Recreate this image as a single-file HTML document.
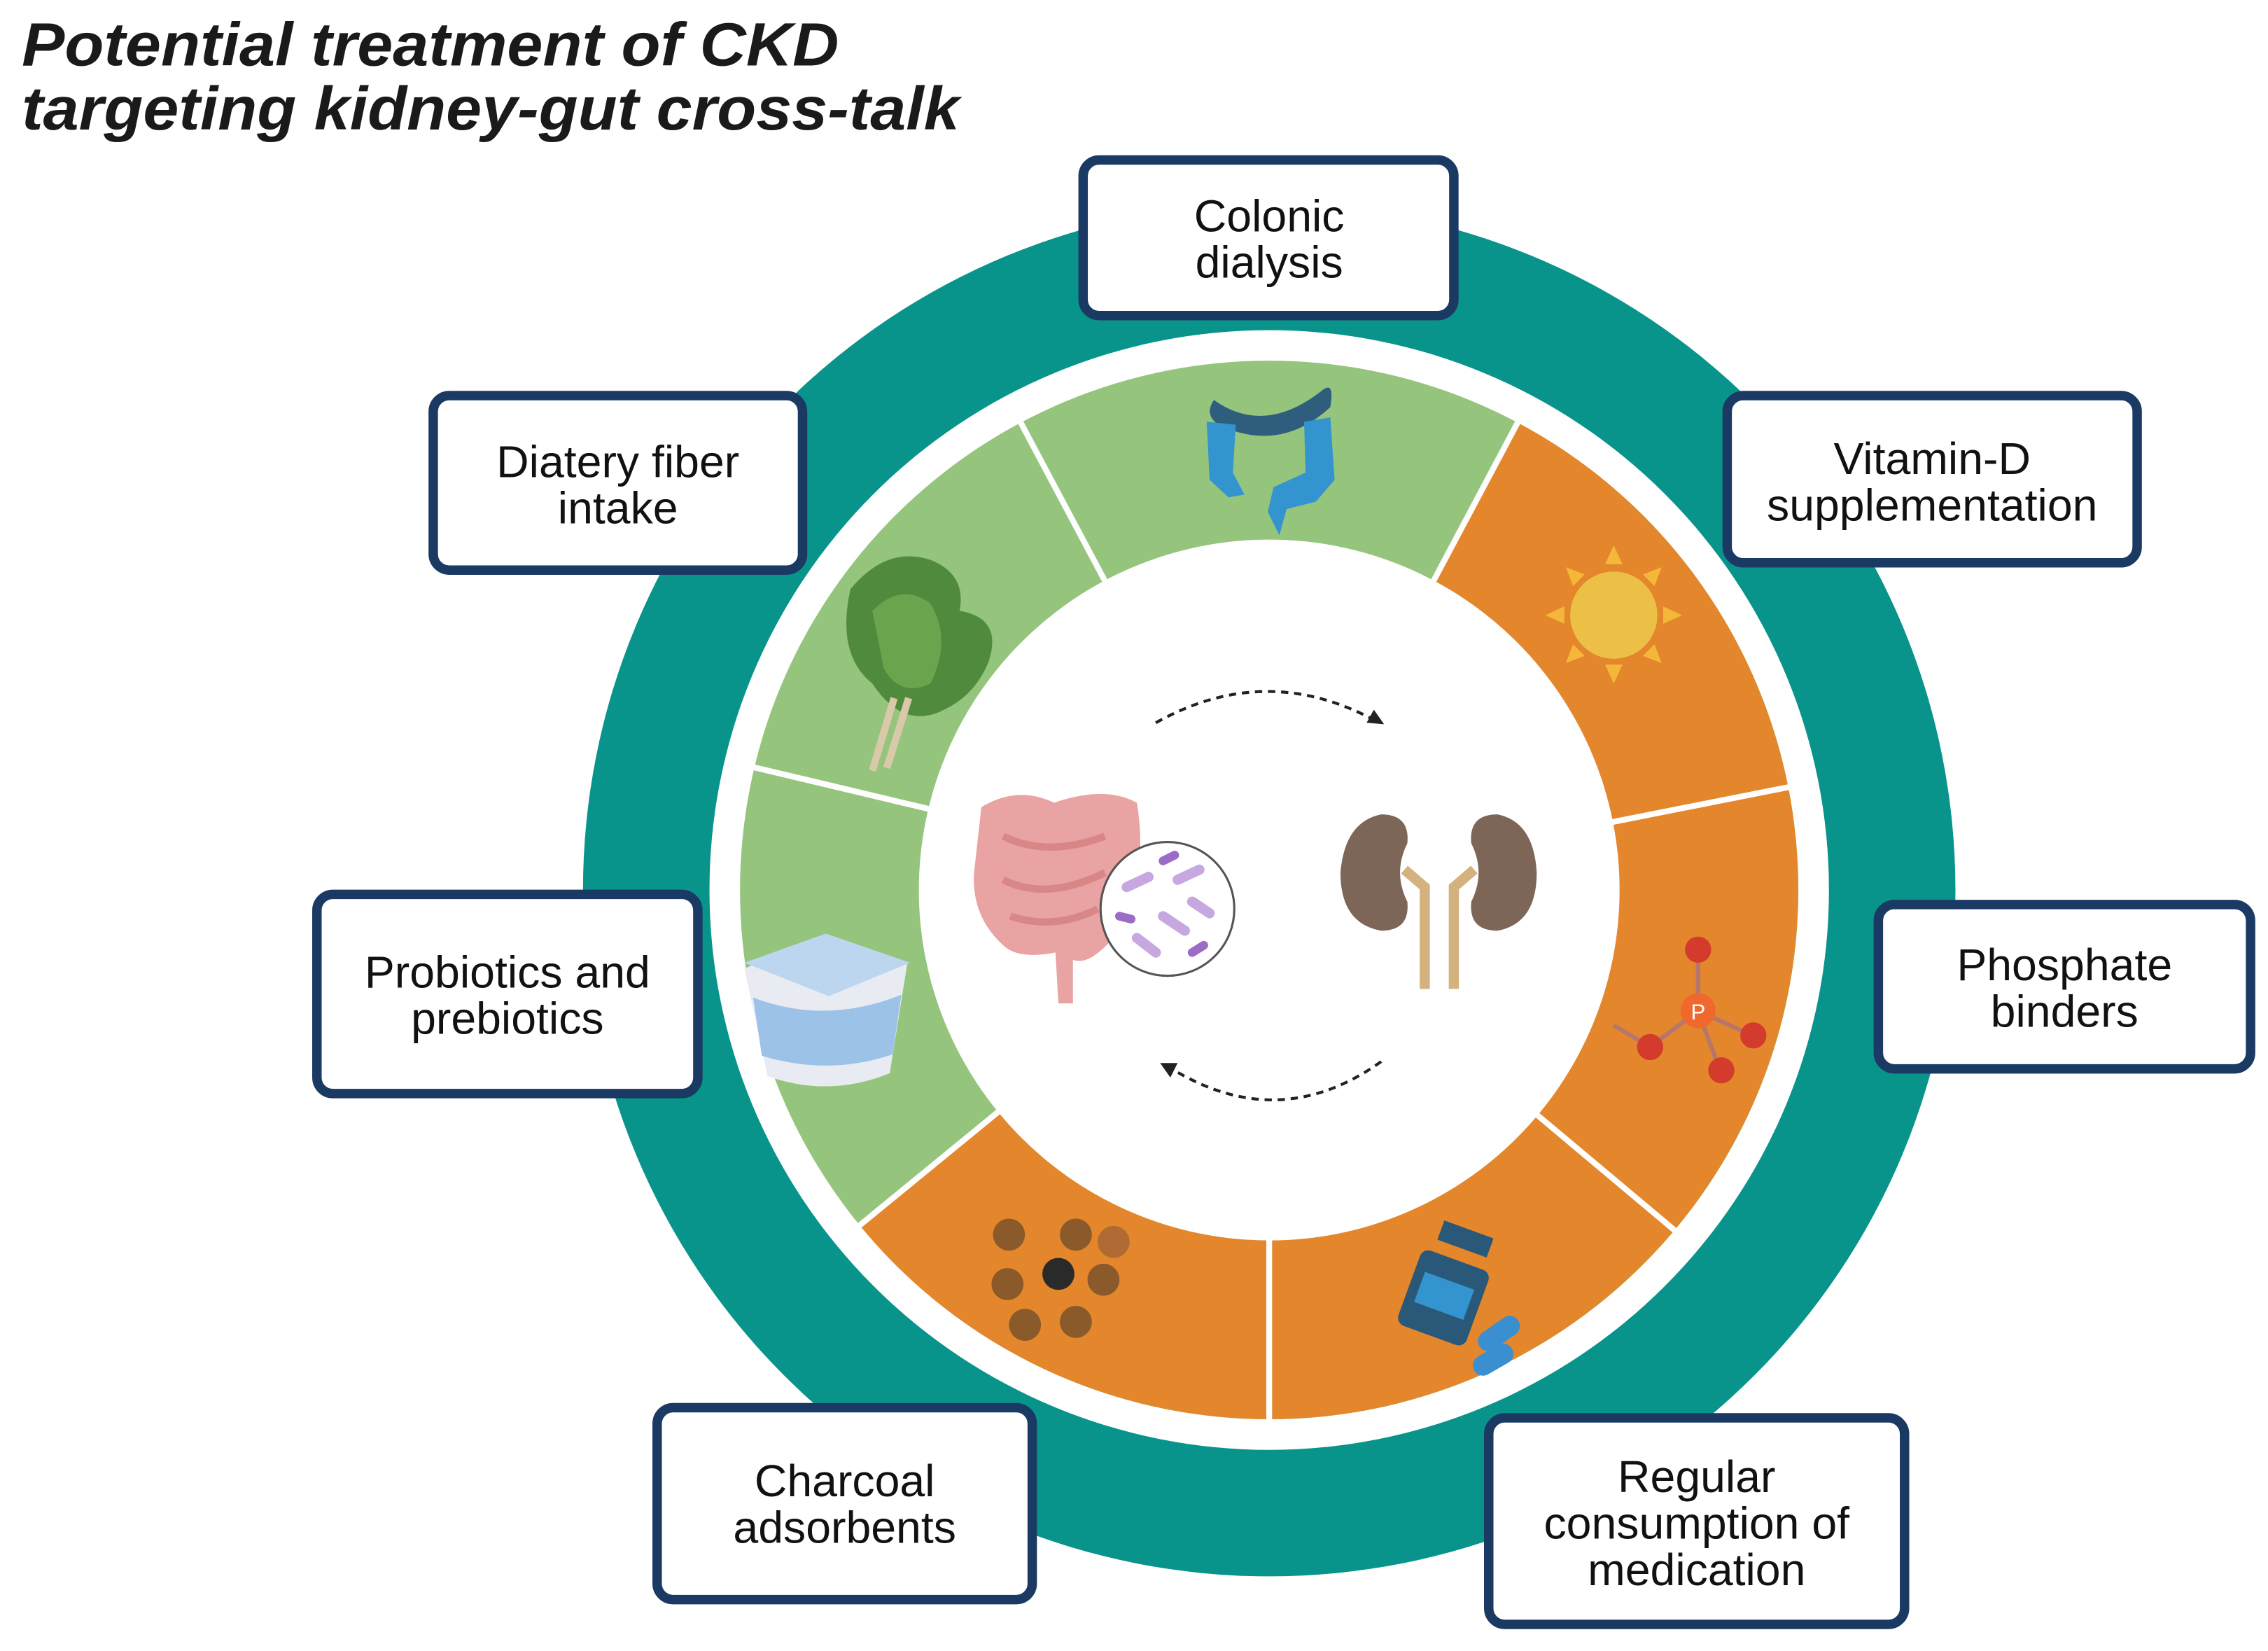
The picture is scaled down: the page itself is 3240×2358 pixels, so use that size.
<!DOCTYPE html>
<html><head><meta charset="utf-8"><style>
html,body{margin:0;padding:0;background:#fff;}
svg{display:block;}
.bt{font-family:"Liberation Sans",sans-serif;font-size:31px;fill:#111;text-anchor:middle;}
</style></head><body>
<svg width="3240" height="2358" viewBox="0 0 1560 1135.3" xmlns="http://www.w3.org/2000/svg">
<rect width="1560" height="1136" fill="#fff"/>
<text x="15" y="45" font-family="Liberation Sans,sans-serif" font-weight="bold" font-style="italic" font-size="42" fill="#1a1a1a" textLength="562" lengthAdjust="spacingAndGlyphs">Potential treatment of CKD</text>
<text x="15" y="89" font-family="Liberation Sans,sans-serif" font-weight="bold" font-style="italic" font-size="42" fill="#1a1a1a" textLength="645" lengthAdjust="spacingAndGlyphs">targeting kidney-gut cross-talk</text>

<circle cx="873" cy="612" r="472" fill="#09948b"/>
<circle cx="873" cy="612" r="385" fill="#fff"/>
<circle cx="873" cy="612" r="364" fill="#95c47d"/>
<path d="M873,612 L1043.9,290.6 A364,364 0 1 1 591.3,842.6 Z" fill="#e4862b"/>
<g stroke="#fff" stroke-width="4">
<line x1="873" y1="612" x2="702.1" y2="290.6"/>
<line x1="873" y1="612" x2="1043.9" y2="290.6"/>
<line x1="873" y1="612" x2="1230.1" y2="541.3"/>
<line x1="873" y1="612" x2="1151.8" y2="846"/>
<line x1="873" y1="612" x2="873" y2="976"/>
<line x1="873" y1="612" x2="591.3" y2="842.6"/>
<line x1="873" y1="612" x2="518.9" y2="527.7"/>
</g>
<circle cx="873" cy="612" r="241" fill="#fff"/>

<!-- colon icon -->
<path d="M835,275 Q870,300 910,268 Q918,262 915,280 Q880,312 838,292 Q828,285 835,275Z" fill="#2f5d7e"/>
<path d="M830,290 L850,292 L848,325 L856,340 L845,342 L832,330 Z" fill="#3494cf"/>
<path d="M897,290 L915,287 L918,330 L905,345 L885,350 L880,368 L872,352 L876,335 L898,325 Z" fill="#3494cf"/>

<!-- sun -->
<g fill="#f4b73a"><polygon points="1110,375 1116,388 1104,388"/><polygon points="1110,470 1116,457 1104,457"/><polygon points="1063,423 1076,417 1076,429"/><polygon points="1157,423 1144,417 1144,429"/><polygon points="1077,390 1090,395 1082,403"/><polygon points="1143,390 1130,395 1138,403"/><polygon points="1077,456 1082,443 1090,451"/><polygon points="1143,456 1138,443 1130,451"/></g>
<circle cx="1110" cy="423" r="30" fill="#ecc046"/>

<!-- phosphate -->
<g stroke="#b7766b" stroke-width="3"><line x1="1168" y1="695" x2="1168" y2="655"/><line x1="1168" y1="695" x2="1135" y2="720"/><line x1="1168" y1="695" x2="1205" y2="712"/><line x1="1168" y1="695" x2="1183" y2="736"/><line x1="1135" y1="720" x2="1110" y2="705"/></g>
<circle cx="1168" cy="695" r="12" fill="#f0682d"/><text x="1168" y="701" font-family="Liberation Sans,sans-serif" font-size="15" fill="#fff" text-anchor="middle">P</text>
<g fill="#d33b2c"><circle cx="1168" cy="653" r="9"/><circle cx="1135" cy="720" r="9"/><circle cx="1206" cy="712" r="9"/><circle cx="1184" cy="736" r="9"/></g>

<!-- medication -->
<rect x="968" y="865" width="50" height="55" rx="6" fill="#2a5878" transform="rotate(20 993 892)"/>
<rect x="975" y="880" width="36" height="22" fill="#3494cf" transform="rotate(20 993 892)"/>
<rect x="990" y="845" width="36" height="14" fill="#2a5878" transform="rotate(20 1008 852)"/>
<rect x="1015" y="910" width="32" height="14" rx="7" fill="#3a8fd0" transform="rotate(-35 1031 917)"/>
<rect x="1012" y="928" width="30" height="14" rx="7" fill="#3a8fd0" transform="rotate(-30 1027 935)"/>

<!-- charcoal -->
<g fill="#8a5a2a"><circle cx="694" cy="849" r="11"/><circle cx="740" cy="849" r="11"/><circle cx="693" cy="883" r="11"/><circle cx="759" cy="880" r="11"/><circle cx="705" cy="911" r="11"/><circle cx="740" cy="909" r="11"/></g>
<circle cx="766" cy="854" r="11" fill="#b06b35"/>
<circle cx="728" cy="876" r="11" fill="#2a2a2a"/>

<!-- yogurt -->
<path d="M512,666 L568,643 L624,663 L612,738 Q570,755 528,740 Z" fill="#e8ecf2"/>
<path d="M518,686 Q568,705 620,684 L614,725 Q570,740 524,726 Z" fill="#9cc2e8"/>
<path d="M512,662 L568,642 L626,662 L570,685 Z" fill="#bcd6f0"/>

<!-- lettuce -->
<path d="M585,405 Q610,375 640,385 Q665,395 660,420 Q690,425 680,455 Q670,480 645,490 Q620,500 600,470 Q575,450 585,405Z" fill="#4f8a3d"/>
<path d="M600,420 Q620,400 640,415 Q655,440 640,470 Q620,480 608,460 Z" fill="#6aa54d"/>
<path d="M615,480 L600,530 M625,480 L610,528" stroke="#d9c9a8" stroke-width="5"/>

<!-- center: gut -->
<path d="M675,555 Q700,540 725,552 Q760,540 782,552 Q790,600 770,640 Q750,665 738,660 L738,690 L728,690 L726,655 Q700,660 690,650 Q668,630 670,600 Z" fill="#e9a3a3"/>
<path d="M690,575 Q720,590 760,575 M690,605 Q720,620 760,600 M695,630 Q725,640 755,625" stroke="#d88686" stroke-width="5" fill="none"/>
<circle cx="803" cy="625" r="46" fill="#fff" stroke="#555" stroke-width="1.5"/>
<g stroke="#c7a7e0" stroke-width="7" stroke-linecap="round"><line x1="775" y1="610" x2="790" y2="603"/><line x1="800" y1="630" x2="815" y2="640"/><line x1="810" y1="605" x2="825" y2="598"/><line x1="782" y1="645" x2="795" y2="655"/><line x1="820" y1="620" x2="832" y2="628"/></g>
<g stroke="#9b6cc6" stroke-width="6" stroke-linecap="round"><line x1="800" y1="592" x2="808" y2="588"/><line x1="770" y1="630" x2="778" y2="632"/><line x1="820" y1="655" x2="828" y2="650"/></g>

<!-- kidneys -->
<path d="M950,560 Q925,565 922,600 Q922,635 950,640 Q970,640 968,620 Q958,600 968,580 Q970,560 950,560Z" fill="#7d6658"/>
<path d="M1030,560 Q1055,565 1057,600 Q1057,635 1030,640 Q1010,640 1012,620 Q1022,600 1012,580 Q1010,560 1030,560Z" fill="#7d6658"/>
<path d="M966,598 L980,610 L980,680 M1014,598 L1000,610 L1000,680" stroke="#d3b27f" stroke-width="7" fill="none"/>

<!-- arrows -->
<path d="M795,497 Q870,455 945,495" stroke="#222" stroke-width="2" stroke-dasharray="5,4" fill="none"/>
<polygon points="952,498 940,497 945,488" fill="#222"/>
<path d="M950,730 Q880,780 806,735" stroke="#222" stroke-width="2" stroke-dasharray="5,4" fill="none"/>
<polygon points="798,731 810,731 805,741" fill="#222"/>

<!-- boxes -->
<g fill="#fff" stroke="#1b3a63" stroke-width="6.5">
<rect x="745" y="110" width="255" height="107" rx="11"/>
<rect x="298" y="272" width="254" height="120" rx="11"/>
<rect x="1188" y="272" width="282" height="115" rx="11"/>
<rect x="218" y="615" width="262" height="137" rx="11"/>
<rect x="1292" y="622" width="256" height="113" rx="11"/>
<rect x="452" y="968" width="258" height="132" rx="11"/>
<rect x="1024" y="975" width="286" height="142" rx="11"/>
</g>
<text class="bt" x="873" y="159">Colonic</text><text class="bt" x="873" y="191">dialysis</text>
<text class="bt" x="425" y="328">Diatery fiber</text><text class="bt" x="425" y="360">intake</text>
<text class="bt" x="1329" y="326">Vitamin-D</text><text class="bt" x="1329" y="358">supplementation</text>
<text class="bt" x="349" y="679">Probiotics and</text><text class="bt" x="349" y="711">prebiotics</text>
<text class="bt" x="1420" y="674">Phosphate</text><text class="bt" x="1420" y="706">binders</text>
<text class="bt" x="581" y="1029">Charcoal</text><text class="bt" x="581" y="1061">adsorbents</text>
<text class="bt" x="1167" y="1026">Regular</text><text class="bt" x="1167" y="1058">consumption of</text><text class="bt" x="1167" y="1090">medication</text>
</svg>
</body></html>
